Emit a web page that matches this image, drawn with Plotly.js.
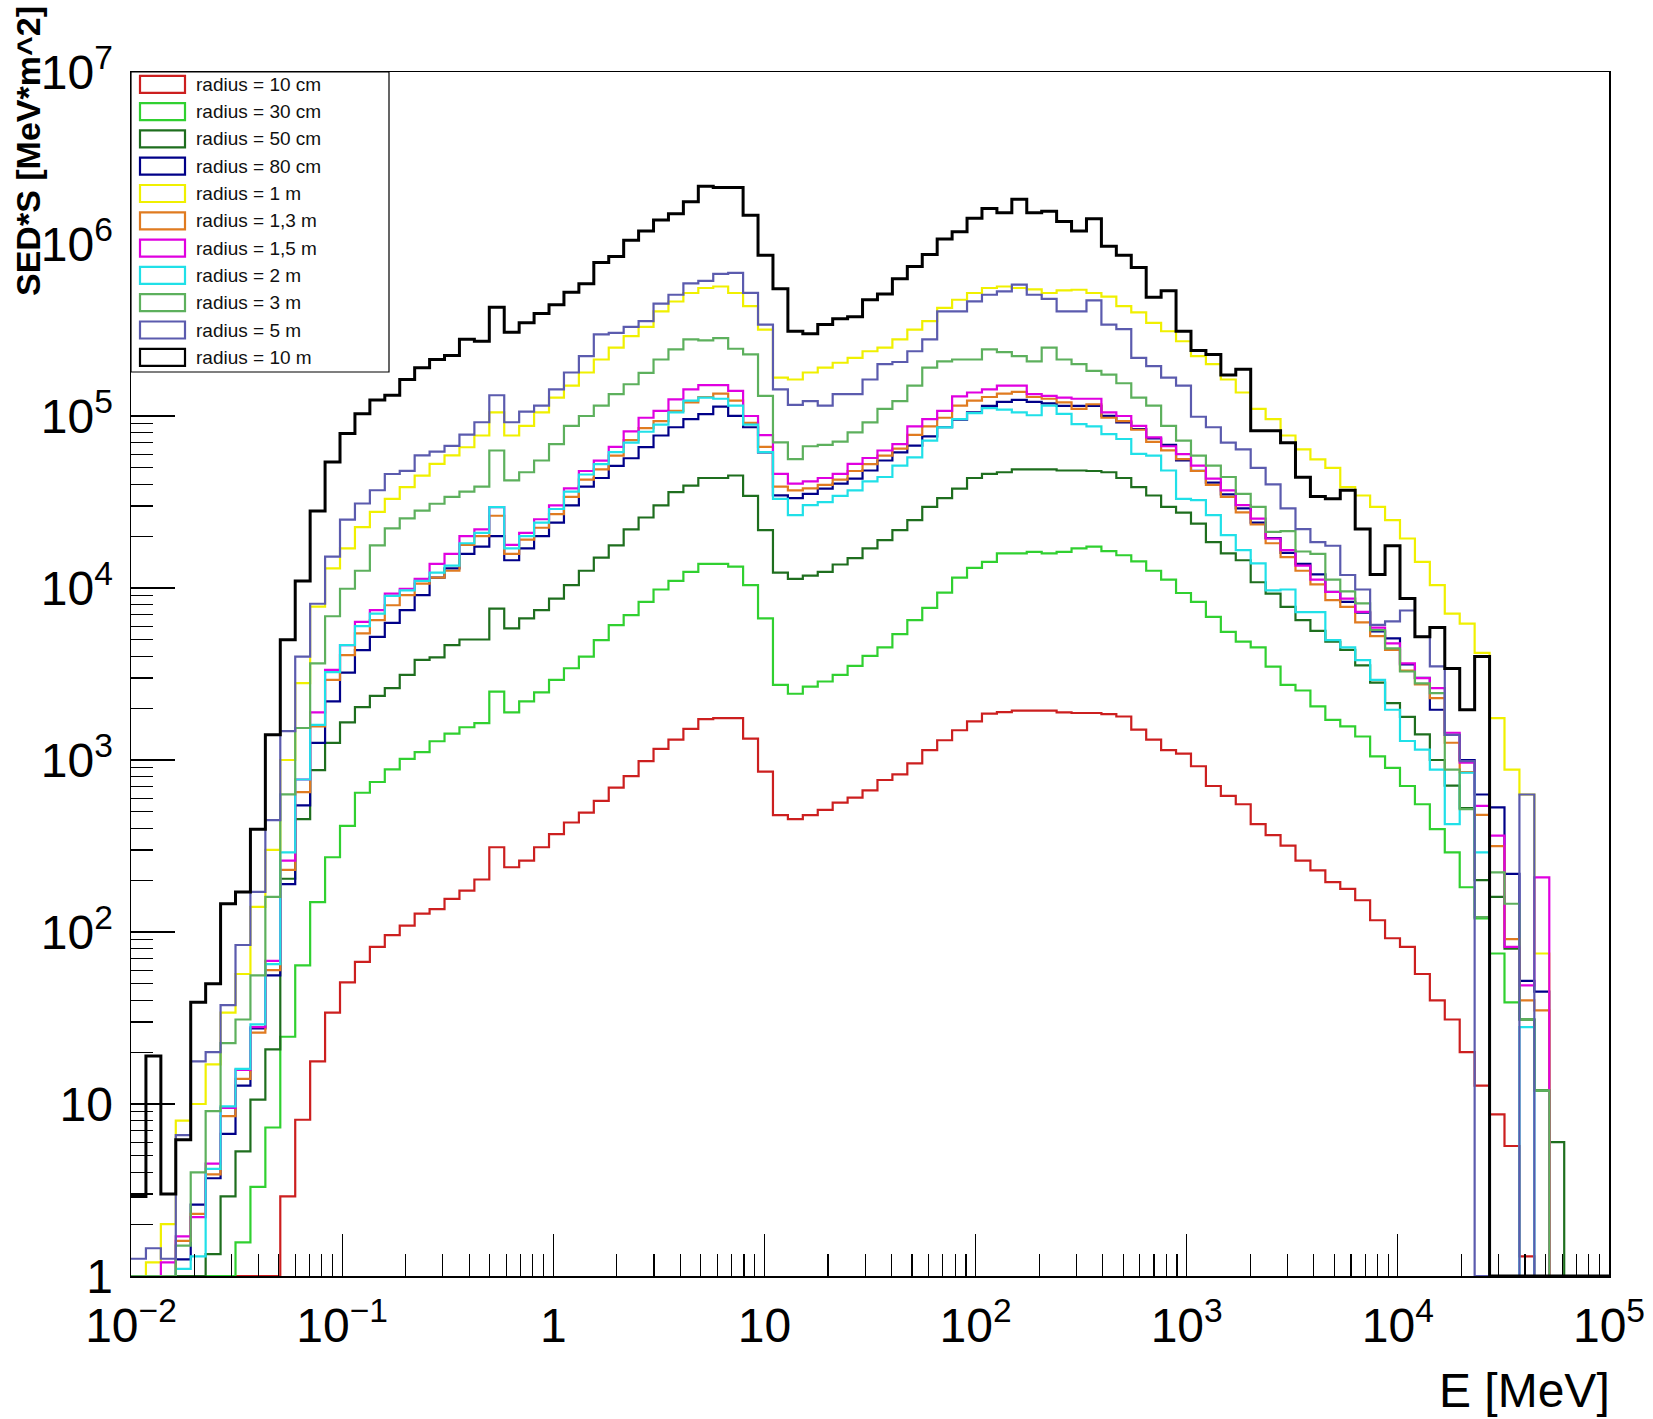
<!DOCTYPE html>
<html>
<head>
<meta charset="utf-8">
<script src="https://cdn.plot.ly/plotly-3.0.1.min.js"></script>
<style>
html,body{margin:0;padding:0;background:#fff;}
#chart{width:1653px;height:1419px;}
</style>
</head>
<body>
<div id="chart"></div>
<script>
// ---- histogram binning (log bins) ----
const xMinExp = -2;
const xMaxExp = 5;
const nBins = 99;

// ---- series names & colours ----
const seriesNames = ["radius = 10 cm","radius = 30 cm","radius = 50 cm","radius = 80 cm","radius = 1 m",
  "radius = 1,3 m","radius = 1,5 m","radius = 2 m","radius = 3 m","radius = 5 m","radius = 10 m"];
const seriesColors = ["#cc1f1f","#30d030","#1e6e1e","#000088","#f0f000",
  "#e07b20","#e000e0","#20e0e8","#5db05d","#5b5bae","#000000"];

// ---- bin contents, SED*S [MeV*m^2] ----
const r10cm = [0,0,0,0,0,0,0,0,0,0,
 2.9,8.1,17.7,34,51,67,82,96,109,128,
 136,156,174,202,311,238,260,311,371,433,
 495,578,690,805,985,1160,1315,1515,1730,1750,
 1750,1333,855,478,453,478,513,565,604,666,
 765,824,955,1140,1303,1489,1679,1858,1900,1936,
 1936,1936,1890,1876,1876,1850,1790,1503,1315,1140,
 1090,920,706,618,553,424,366,318,260,228,
 195,178,153,117,92,82,57,40,31,20,
 12.8,8.7,5.7,1.3,0,0,0,0,0];
const r30cm = [0,0,0,0,0,0,0,1.57,3.3,7.3,
 24.6,64,149,272,414,645,745,881,1016,1110,
 1285,1423,1550,1640,2500,1890,2190,2470,2925,3415,
 3990,4980,6080,6950,8300,9800,11000,12400,13800,13800,
 13300,10400,6650,2735,2427,2674,2860,3125,3524,4027,
 4520,5400,6500,7660,9400,11500,13100,14200,15900,15900,
 16200,15900,16200,17000,17400,16400,15500,14300,12600,11200,
 9350,8300,6790,5560,4880,4520,3490,2735,2535,2050,
 1710,1570,1370,1050,900,706,553,396,290,182,
 120,75,39,31,12,0,0,0,0];
const r50cm = [0,0,0,0,0,1.34,2.9,5.3,10.6,20.8,
 204,453,873,1256,1655,2032,2362,2617,3126,3818,
 3955,4660,5020,5020,7590,5820,6650,7430,8680,10400,
 12600,15000,17700,21900,25700,30200,36100,39400,43600,43600,
 45100,34300,21700,12300,11300,11800,12400,13700,14900,17000,
 19000,21700,24800,29600,33300,37800,43600,46100,47100,48900,
 48900,48900,48200,48200,47900,47100,43600,38600,34500,29600,
 27400,23700,18500,15900,14500,10800,9270,7760,6500,5640,
 4870,4370,3550,2820,2140,1780,1410,1000,710,525,
 200,160,80,31,12,6.0,0,0,0];
const r80cm = [0,0,0,1.25,2.6,3.7,6.7,12.8,27.5,56,
 190,545,1257,2190,3220,4355,5200,6270,7430,9080,
 11500,13000,15800,17400,20000,14500,17000,20000,24000,30200,
 38900,43600,51300,56800,66000,77000,86000,96000,102600,113500,
 100200,86000,61500,34600,33300,35300,37800,40400,43200,48200,
 55100,61500,67300,76200,86000,95100,105000,114600,120800,124200,
 120800,118300,114600,114600,114600,100200,91800,84000,74000,68000,
 55100,48000,41000,35000,29000,24000,19500,16000,13800,12000,
 9500,8300,7200,5600,5100,3600,3000,1960,1400,1000,
 630,530,218,52,45,0,0,0,0];
const r1m = [0,1.2,2.0,8.0,10,17,34,57,140,300,
 1000,2800,7800,13000,17000,22600,27700,33000,38600,45000,
 52700,59000,65800,77000,105000,77000,87700,105000,128000,150000,
 179000,213000,250000,291000,330000,406000,463000,519000,555000,566000,
 519000,435000,318000,167000,163000,179000,191000,204000,218000,238000,
 250000,279000,318000,356000,425000,474000,519000,555000,566000,555000,
 545000,519000,537000,542000,519000,495000,435000,400000,348000,311000,
 272000,223000,200000,163000,137000,110000,96000,77000,64000,56000,
 50000,38600,34500,29600,24800,19400,14200,10400,7100,6200,
 4200,1750,880,630,75,0,0,0,0];
const r1_3m = [0,0,0,1.6,2.3,3.9,8.5,14,26,60,
 230,650,1570,2920,4070,5450,6500,7940,9080,10600,
 11500,12600,17800,20000,26300,15800,19100,22400,26900,33900,
 42700,49000,58900,72400,85100,93300,107000,120000,129000,135000,
 123000,91200,66100,38900,36900,38000,39800,42700,47900,52500,
 58900,64600,77600,87100,97700,115000,123000,129000,135000,138000,
 129000,126000,120000,110000,117000,97700,93300,83200,70800,63100,
 56200,47900,39800,33900,27500,23400,18200,15100,12600,10500,
 8510,7760,6310,5250,4370,3310,2750,2290,1260,850,
 480,316,91,40,35,0,0,0,0];
const r1_5m = [0,0,1.2,1.7,2.2,4.5,9.5,15.8,28,68,
 260,770,1890,3340,4660,6350,7430,9270,9900,11300,
 13800,15800,20000,21900,29500,17800,20900,25100,30200,38000,
 47900,55000,66100,81300,97700,107000,125000,143000,151000,151000,
 140000,100000,77400,46100,40400,41700,43600,46100,52700,57000,
 63000,68700,87100,96000,107000,130000,137000,143000,150000,150000,
 134000,131000,128000,126000,126000,105000,100000,87700,75200,66700,
 60100,51500,43200,36900,30300,25300,19400,16600,13500,11200,
 9480,8670,7260,5890,4760,3650,2990,2620,1440,964,
 541,363,82,49,208,0,0,0,0];
const r2m = [0,0,0,1.1,1.3,4.2,9.7,16,29,65,
 290,770,1600,3240,4660,6000,7100,9000,9700,11000,
 12300,13500,18200,20900,29500,17000,20000,24000,28800,36300,
 45700,52500,61700,70000,81000,89000,105000,123000,128000,126000,
 115000,89000,61700,33000,26500,30300,31600,34300,36900,41700,
 44200,51500,57500,71900,85900,95900,104000,111000,109000,105000,
 101000,115000,103000,89700,87100,78500,73500,60300,58900,48200,
 33000,32400,26500,20300,16600,13900,9700,9800,7240,7240,
 4980,4520,3810,2920,1960,1290,1150,880,424,843,
 290,0,0,28,0,0,0,0,0];
const r3m = [0,0,0,1.5,4,9.1,22.6,31,56,160,
 632,1535,3650,6850,9900,12600,17700,22200,25400,28200,
 30900,33900,36300,38900,63000,42200,47100,55100,68700,87700,
 100000,115000,134000,153000,178000,213000,244000,279000,275000,284000,
 246000,228000,131000,70300,56200,66700,67900,71000,80400,91800,
 110000,122000,150000,191000,208000,213000,213000,244000,235000,223000,
 208000,250000,213000,200000,183000,174000,155000,128000,115000,87700,
 71900,58900,51500,44200,35300,29600,21200,21400,16300,15800,
 11200,9550,8130,5690,4460,3270,2790,2450,880,518,
 122,222,146,31,12,0,0,0,0];
const r5m = [1.26,1.45,1.26,6.6,17.7,20,37.6,84,171,447,
 1470,3990,8100,15200,25000,31000,37000,46000,48000,59000,
 62000,67000,78000,92000,132000,92000,106000,115000,143000,179000,
 223000,298000,304000,330000,356000,450000,507000,590000,610000,670000,
 680000,520000,340000,143000,116000,122000,115000,134000,134000,163000,
 200000,206000,238000,279000,406000,406000,464000,507000,530000,580000,
 507000,480000,406000,406000,470000,340000,320000,218000,195000,167000,
 150000,99000,86000,70000,64000,50000,40000,29000,22000,18500,
 17600,11900,9800,6100,6400,7400,5200,3500,1400,985,
 0,0,0,630,0,0,0,0,0];
const r10m = [2.9,19,3.0,6.2,39,50,146,171,396,1400,
 5000,11000,28000,54000,79000,103000,124000,132000,163000,191000,
 213000,225000,279000,272000,429000,307000,348000,394000,444000,524000,
 587000,780000,845000,1050000,1190000,1380000,1500000,1760000,2170000,2130000,
 2130000,1470000,860000,550000,311000,301000,340000,368000,377000,474000,
 512000,628000,740000,870000,1070000,1180000,1410000,1610000,1520000,1820000,
 1520000,1550000,1350000,1190000,1400000,970000,860000,730000,490000,535000,
 311000,240000,228000,173000,187000,82000,82000,70000,44000,34000,
 33000,37000,22000,12000,17600,8700,5200,5900,3400,1960,
 4000,0,0,0,0,0,0,0,0];

const seriesData = [r10cm,r30cm,r50cm,r80cm,r1m,r1_3m,r1_5m,r2m,r3m,r5m,r10m];

// ---- axis ticks ----
const xTickVals = [0.01,0.1,1,10,100,1000,10000,100000];
const xTickText = ["10<sup>\u22122</sup>","10<sup>\u22121</sup>","1","10","10<sup>2</sup>","10<sup>3</sup>","10<sup>4</sup>","10<sup>5</sup>"];
const yTickVals = [1,10,100,1000,10000,100000,1000000,10000000];
const yTickText = ["1","10","10<sup>2</sup>","10<sup>3</sup>","10<sup>4</sup>","10<sup>5</sup>","10<sup>6</sup>","10<sup>7</sup>"];

// ---- build traces ----
const edges = [];
for (let i = 0; i <= nBins; i++) edges.push(Math.pow(10, xMinExp + (xMaxExp - xMinExp) * i / nBins));
const yFloor = 1; // ROOT draws empty / below-range bins on the frame bottom

const traces = seriesData.map((vals, s) => {
  const y = vals.map(v => Math.max(v, yFloor));
  y.push(y[y.length - 1]);
  return {
    type: 'scatter', mode: 'lines', name: seriesNames[s],
    x: edges, y: y,
    line: {shape: 'hv', color: seriesColors[s], width: s === 10 ? 3 : 2.2},
    showlegend: false, hoverinfo: 'skip'
  };
});

// ---- geometry helpers (pixel -> paper) ----
const W = 1653, H = 1419;
const mL = 131, mR = 44, mT = 72, mB = 143;
const pw = W - mL - mR, ph = H - mT - mB;
const px = x => (x - mL) / pw;
const py = y => 1 - (y - mT) / ph;

const shapes = [];
const annotations = [];

// legend box
shapes.push({type:'rect', xref:'paper', yref:'paper', x0:px(131), x1:px(389), y0:py(372), y1:py(72),
  fillcolor:'#ffffff', line:{color:'#000', width:1.2}, layer:'above'});
seriesNames.forEach((name, i) => {
  const cy = 84.3 + 27.3 * i;
  shapes.push({type:'rect', xref:'paper', yref:'paper', x0:px(140), x1:px(185), y0:py(cy + 8.5), y1:py(cy - 8.5),
    fillcolor:'rgba(255,255,255,0)', line:{color:seriesColors[i], width:2.2}, layer:'above'});
  annotations.push({xref:'paper', yref:'paper', x:px(194), y:py(cy), xanchor:'left', yanchor:'middle',
    text:name, showarrow:false, font:{family:'Liberation Sans, Arial, sans-serif', size:19, color:'#111'}});
});

// axis titles
annotations.push({xref:'paper', yref:'paper', x:px(28), y:py(4), xanchor:'center', yanchor:'top',
  text:'SED*S [MeV*m^2]', textangle:-90, showarrow:false,
  font:{family:'Liberation Sans, Arial, sans-serif', size:34, color:'#000', weight:'bold'}});
annotations.push({xref:'paper', yref:'paper', x:1, y:py(1390), xanchor:'right', yanchor:'middle', xshift:3,
  text:'E [MeV]', showarrow:false,
  font:{family:'Liberation Sans, Arial, sans-serif', size:48, color:'#000'}});

const tickFont = {family:'Liberation Sans, Arial, sans-serif', size:48, color:'#000'};

const layout = {
  width: W, height: H,
  margin: {l:mL, r:mR, t:mT, b:mB, pad:0},
  paper_bgcolor:'#fff', plot_bgcolor:'#fff',
  showlegend:false,
  xaxis: {
    type:'log', range:[xMinExp, xMaxExp], showgrid:false, zeroline:false,
    showline:true, mirror:true, linecolor:'#000', linewidth:1.5,
    ticks:'inside', ticklen:42, tickwidth:1.2, tickcolor:'#000',
    tickmode:'array', tickvals:xTickVals, ticktext:xTickText,
    tickfont:tickFont, ticklabelstandoff:7,
    minor:{ticks:'inside', ticklen:22, tickwidth:1.2, tickcolor:'#000', dtick:'D1', showgrid:false}
  },
  yaxis: {
    type:'log', range:[0, 7], showgrid:false, zeroline:false,
    showline:true, mirror:true, linecolor:'#000', linewidth:1.5,
    ticks:'inside', ticklen:44, tickwidth:1.2, tickcolor:'#000',
    tickmode:'array', tickvals:yTickVals, ticktext:yTickText,
    tickfont:tickFont, ticklabelstandoff:7,
    minor:{ticks:'inside', ticklen:22, tickwidth:1.2, tickcolor:'#000', dtick:'D1', showgrid:false}
  },
  shapes: shapes,
  annotations: annotations
};

Plotly.newPlot('chart', traces, layout, {staticPlot:true, displayModeBar:false});
</script>
</body>
</html>
